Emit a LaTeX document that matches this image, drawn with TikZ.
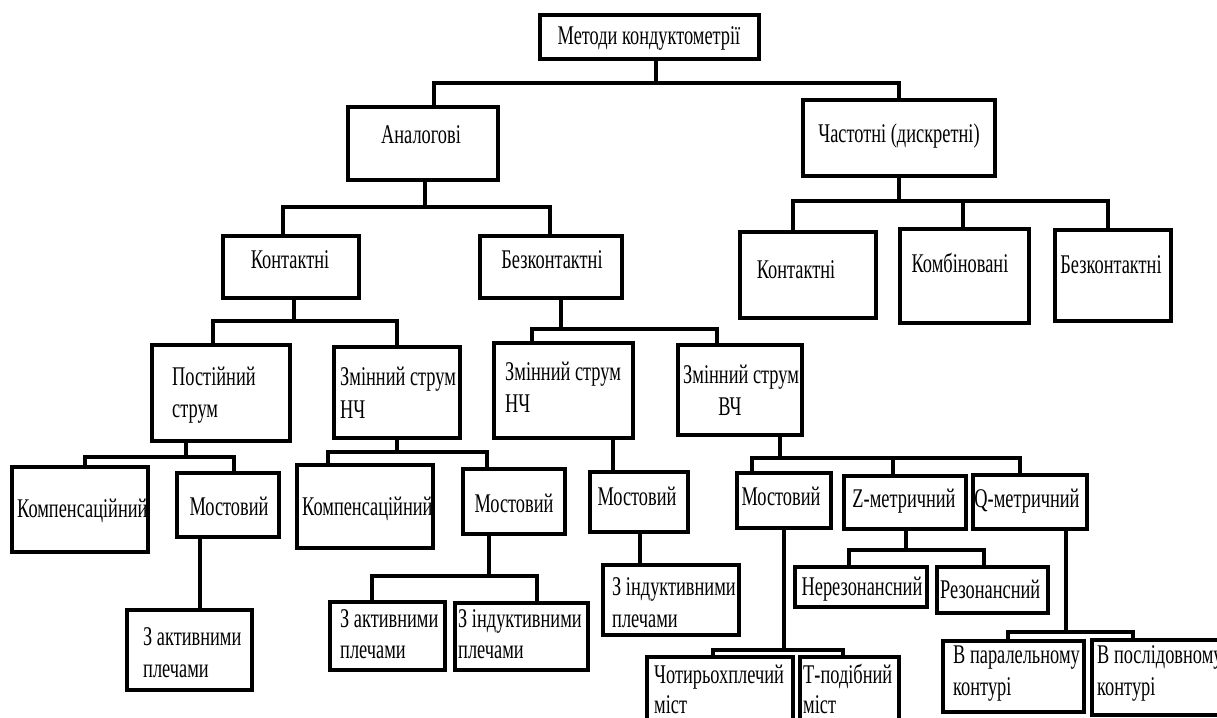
\documentclass[tikz,border=0pt]{standalone}
\usepackage{fontspec}
\setmainfont{Liberation Serif}[FakeStretch=0.68]
\tikzset{
  box/.style={draw=black, line width=3.8pt, inner sep=0pt, line join=miter},
  conn/.style={draw=black, line width=3.3pt, line join=miter},
  txt/.style={inner sep=0pt, font=\fontsize{27}{32}\selectfont, text=black}
}
\newcommand\bx[5]{\node[box, minimum width={(#4)-(#2)}, minimum height={(#5)-(#3)}] (#1) at ({((#2)+(#4))/2},{((#3)+(#5))/2}) {};}
\newcommand\forktwo[7]{%
  \coordinate (j-#1) at (#2,#3);
  \draw[conn] (#1.south -| j-#1) -- (j-#1);
  \draw[conn] (#4.north -| #5,0) |- (j-#1) -| (#6.north -| #7,0);
}
\newcommand\forkextra[3]{\draw[conn] (#2.north -| #3,0) |- (j-#1);}
\begin{document}
\begin{tikzpicture}[x=1pt, y=-1pt]
\fill[white] (0,0) rectangle (1217,717);
\clip (0,0) rectangle (1217,717);
% boxes
\bx{root}{540}{15}{759}{59}
\bx{analog}{348}{107}{498}{180}
\bx{chast}{803}{100}{995}{176}
\bx{kont1}{223}{236}{359}{298}
\bx{bezk1}{480}{236}{622}{298}
\bx{kont2}{740}{232}{876}{318}
\bx{komb}{900}{229}{1029}{323}
\bx{bezk2}{1055}{230}{1171}{321}
\bx{post}{152}{345}{290}{441}
\bx{zmin1}{334}{347}{460}{438}
\bx{zmin2}{494}{343}{633}{438}
\bx{vch}{678}{345}{802}{435}
\bx{komp1}{12}{467}{148}{552}
\bx{most1}{177}{473}{279}{537}
\bx{komp2}{297}{465}{433}{548}
\bx{most2}{463}{469}{565}{534}
\bx{most3}{590}{472}{688}{532}
\bx{most4}{737}{473}{831}{528}
\bx{zmet}{844}{476}{966}{529}
\bx{qmet}{973}{475}{1087}{529}
\bx{akt1}{127}{610}{252}{690}
\bx{akt2}{330}{602}{445}{670}
\bx{ind2}{455}{603}{588}{670}
\bx{ind3}{603}{565}{739}{635}
\bx{nerez}{795}{567}{927}{607}
\bx{rez}{937}{567}{1048}{613}
\bx{chotyr}{647}{657}{793}{740}
\bx{tpod}{800}{657}{899}{740}
\bx{parall}{943}{641}{1084}{712}
\bx{posl}{1092}{640}{1240}{715}
% connectors
\forktwo{root}{656}{83}{analog}{434}{chast}{899}
\forktwo{analog}{425}{207}{kont1}{283}{bezk1}{550}
\forktwo{chast}{899}{201}{kont2}{793}{bezk2}{1108}
\forkextra{chast}{komb}{963}
\forktwo{kont1}{294}{321}{post}{213}{zmin1}{397}
\forktwo{bezk1}{561}{329}{zmin2}{532}{vch}{717}
\forktwo{post}{186}{457}{komp1}{85}{most1}{234}
\forktwo{zmin1}{397}{452}{komp2}{328}{most2}{487}
\draw[conn] (zmin2.south -| 613,0) -- (most3.north -| 613,0);
\forktwo{vch}{780}{458}{most4}{752}{qmet}{1020}
\forkextra{vch}{zmet}{893}
\draw[conn] (most1.south -| 200,0) -- (akt1.north -| 200,0);
\forktwo{most2}{489}{576}{akt2}{372}{ind2}{537}
\draw[conn] (most3.south -| 640,0) -- (ind3.north -| 640,0);
\forktwo{zmet}{906}{550}{nerez}{849}{rez}{984}
\forktwo{qmet}{1066}{632}{parall}{1008}{posl}{1133}
\forktwo{most4}{784}{650}{chotyr}{713}{tpod}{843}
% texts
\node[txt, anchor=base] (t-root) at (649,45) {Методи кондуктометрії};
\node[txt, anchor=base] (t-analog) at (421,143) {Аналогові};
\node[txt, anchor=base] (t-chast) at (899,142) {Частотні (дискретні)};
\node[txt, anchor=base] (t-kont1) at (290,268) {Контактні};
\node[txt, anchor=base] (t-bezk1) at (552,268) {Безконтактні};
\node[txt, anchor=base] (t-kont2) at (796,278) {Контактні};
\node[txt, anchor=base] (t-komb) at (960,272) {Комбіновані};
\node[txt, anchor=base] (t-bezk2) at (1111,273) {Безконтактні};
\node[txt, anchor=base west] (t-post1) at (172,385) {Постійний};
\node[txt, anchor=base west] (t-post2) at (172,417) {струм};
\node[txt, anchor=base west] (t-zmin1a) at (340,385) {Змінний струм};
\node[txt, anchor=base west] (t-zmin1b) at (340,418) {НЧ};
\node[txt, anchor=base west] (t-zmin2a) at (505,380) {Змінний струм};
\node[txt, anchor=base west] (t-zmin2b) at (505,412) {НЧ};
\node[txt, anchor=base west] (t-vcha) at (683,383) {Змінний струм};
\node[txt, anchor=base] (t-vchb) at (730,415) {ВЧ};
\node[txt, anchor=base west] (t-komp1) at (17,517) {Компенсаційний};
\node[txt, anchor=base] (t-most1) at (229,515) {Мостовий};
\node[txt, anchor=base west] (t-komp2) at (302,515) {Компенсаційний};
\node[txt, anchor=base] (t-most2) at (514,512) {Мостовий};
\node[txt, anchor=base] (t-most3) at (637,505) {Мостовий};
\node[txt, anchor=base] (t-most4) at (781,505) {Мостовий};
\node[txt, anchor=base] (t-zmet) at (904,507) {Z-метричний};
\node[txt, anchor=base] (t-qmet) at (1027,507) {Q-метричний};
\node[txt, anchor=base west] (t-akt1a) at (143,645) {З активними};
\node[txt, anchor=base west] (t-akt1b) at (143,677) {плечами};
\node[txt, anchor=base west] (t-akt2a) at (340,627) {З активними};
\node[txt, anchor=base west] (t-akt2b) at (340,658) {плечами};
\node[txt, anchor=base west] (t-ind2a) at (458,627) {З індуктивними};
\node[txt, anchor=base west] (t-ind2b) at (458,658) {плечами};
\node[txt, anchor=base west] (t-ind3a) at (612,595) {З індуктивними};
\node[txt, anchor=base west] (t-ind3b) at (612,627) {плечами};
\node[txt, anchor=base] (t-nerez) at (862,595) {Нерезонансний};
\node[txt, anchor=base west] (t-rez) at (940,598) {Резонансний};
\node[txt, anchor=base west] (t-chotyra) at (654,683) {Чотирьохплечий};
\node[txt, anchor=base west] (t-chotyrb) at (654,713) {міст};
\node[txt, anchor=base west] (t-tpoda) at (803,683) {Т-подібний};
\node[txt, anchor=base west] (t-tpodb) at (803,713) {міст};
\node[txt, anchor=base west] (t-parala) at (953,663) {В паралельному};
\node[txt, anchor=base west] (t-paralb) at (953,695) {контурі};
\node[txt, anchor=base west] (t-posla) at (1097,663) {В послідовному};
\node[txt, anchor=base west] (t-poslb) at (1097,695) {контурі};
\end{tikzpicture}
\end{document}
